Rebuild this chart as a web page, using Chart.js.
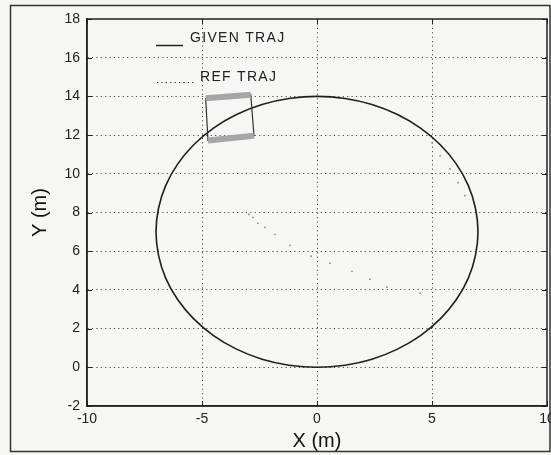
<!DOCTYPE html>
<html>
<head>
<meta charset="utf-8">
<script src="https://cdn.jsdelivr.net/npm/chart.js@4.4.0/dist/chart.umd.min.js"></script>
<style>
html, body { margin: 0; padding: 0; background: #f6f6f4; }
</style>
</head>
<body>
<canvas id="graph" width="551" height="455"></canvas>
<script>
// given trajectory (circle round 0,7, every 10 degrees)
// one extra point at each end only steers the curve, those segments are hidden
const givenX = [6.89, 7, 6.89, 6.58, 6.06, 5.36, 4.5, 3.5, 2.39, 1.22, 0, -1.22, -2.39, -3.5, -4.5, -5.36, -6.06, -6.58, -6.89,
                -7, -6.89, -6.58, -6.06, -5.36, -4.5, -3.5, -2.39, -1.22, 0, 1.22, 2.39, 3.5, 4.5, 5.36, 6.06, 6.58, 6.89, 7, 6.89];
const givenY = [5.78, 7, 8.22, 9.39, 10.5, 11.5, 12.36, 13.06, 13.58, 13.89, 14, 13.89, 13.58, 13.06, 12.36, 11.5, 10.5, 9.39, 8.22,
                7, 5.78, 4.61, 3.5, 2.5, 1.64, 0.94, 0.42, 0.11, 0, 0.11, 0.42, 0.94, 1.64, 2.5, 3.5, 4.61, 5.78, 7, 8.22];
// faint reference dots
const refX = [-2.96, -2.78, -2.57, -2.26, -1.83, -1.17, -0.26, 0.57, 1.52, 2.30, 3.04, 4.48,
              5.0, 5.35, 5.78, 6.13, 6.43];
const refY = [7.90, 7.75, 7.44, 7.23, 6.87, 6.30, 5.74, 5.38, 4.96, 4.55, 4.14, 3.83,
              11.6, 10.93, 10.26, 9.54, 8.87];
// robot body and wheels
const robotX = [-4.84, -2.88, -2.74, -4.74, -4.84];
const robotY = [13.9, 14.09, 11.97, 11.72, 13.9];
const wheelTopX = [-4.84, -2.88];
const wheelTopY = [13.9, 14.09];
const wheelBotX = [-4.74, -2.74];
const wheelBotY = [11.72, 11.97];

const labels = ['GIVEN TRAJ', 'REF TRAJ'];
const xTitle = 'X (m)';
const yTitle = 'Y (m)';

function pts(xs, ys) {
    return xs.map((x, i) => ({x: x, y: ys[i]}));
}

Chart.defaults.font.family = '"Liberation Sans", Arial, sans-serif';

const paper = {
    id: 'paper',
    beforeDraw(chart) {
        const ctx = chart.ctx;
        ctx.save();
        ctx.fillStyle = '#f6f6f4';
        ctx.fillRect(0, 0, chart.width, chart.height);
        ctx.strokeStyle = '#333';
        ctx.lineWidth = 1.5;
        ctx.strokeRect(10.5, 5.5, 539.5, 446);
        ctx.restore();
    },
    afterDraw(chart) {
        const ctx = chart.ctx;
        const a = chart.chartArea;
        const xs = chart.scales.x, ys = chart.scales.y;
        ctx.save();
        ctx.strokeStyle = '#222';
        ctx.lineWidth = 1.5;
        ctx.strokeRect(a.left, a.top, a.right - a.left, a.bottom - a.top);
        ctx.lineWidth = 1;
        ctx.beginPath();
        xs.ticks.forEach(t => {
            const p = Math.round(xs.getPixelForValue(t.value)) + 0.5;
            ctx.moveTo(p, a.bottom); ctx.lineTo(p, a.bottom - 5);
            ctx.moveTo(p, a.top); ctx.lineTo(p, a.top + 5);
        });
        ys.ticks.forEach(t => {
            const p = Math.round(ys.getPixelForValue(t.value)) + 0.5;
            ctx.moveTo(a.left, p); ctx.lineTo(a.left + 5, p);
            ctx.moveTo(a.right, p); ctx.lineTo(a.right - 5, p);
        });
        ctx.stroke();

        // legend inside the plot
        ctx.fillStyle = '#222';
        ctx.font = '14px "Liberation Sans", Arial, sans-serif';
        ctx.letterSpacing = '1.3px';
        ctx.textBaseline = 'middle';
        ctx.lineWidth = 1.5;
        ctx.beginPath();
        ctx.moveTo(156, 45.5); ctx.lineTo(183, 45.5);
        ctx.stroke();
        ctx.fillText(labels[0], 190, 38);
        ctx.setLineDash([1.2, 3.2]);
        ctx.lineWidth = 1.2;
        ctx.beginPath();
        ctx.moveTo(157, 82.5); ctx.lineTo(196, 82.5);
        ctx.stroke();
        ctx.setLineDash([]);
        ctx.fillText(labels[1], 200, 77);
        ctx.restore();
    }
};

const gridColor = c => (c.tick && (c.index === 0 || c.index === c.scale.ticks.length - 1)) ? 'rgba(0,0,0,0)' : '#4a4a4a';
const lastSeg = givenX.length - 1;

new Chart(document.getElementById('graph'), {
    type: 'scatter',
    data: {
        datasets: [
            {
                label: labels[0],
                data: pts(givenX, givenY),
                showLine: true,
                borderColor: '#1e1e1e',
                borderWidth: 1.6,
                pointRadius: 0,
                tension: 0.4,
                order: 2,
                segment: {
                    borderColor: c => (c.p0DataIndex === 0 || c.p1DataIndex === lastSeg) ? 'rgba(0,0,0,0)' : undefined
                }
            },
            {
                label: labels[1],
                data: pts(refX, refY),
                showLine: false,
                pointRadius: 0.9,
                borderWidth: 0,
                backgroundColor: '#8a8a8a',
                order: 2
            },
            {
                label: 'robot',
                data: pts(robotX, robotY),
                showLine: true,
                borderColor: '#333',
                borderWidth: 1.2,
                pointRadius: 0,
                tension: 0,
                order: 1
            },
            {
                label: 'wheel1',
                data: pts(wheelTopX, wheelTopY),
                showLine: true,
                borderColor: '#a6a6a6',
                borderWidth: 6,
                borderCapStyle: 'butt',
                pointRadius: 0,
                order: 0
            },
            {
                label: 'wheel2',
                data: pts(wheelBotX, wheelBotY),
                showLine: true,
                borderColor: '#a6a6a6',
                borderWidth: 6,
                borderCapStyle: 'butt',
                pointRadius: 0,
                order: 0
            }
        ]
    },
    options: {
        responsive: false,
        animation: false,
        devicePixelRatio: 1,
        layout: {padding: {left: 0, top: 19, right: 3, bottom: 0}},
        plugins: {legend: {display: false}, tooltip: {enabled: false}},
        scales: {
            x: {
                type: 'linear',
                min: -10,
                max: 10,
                ticks: {stepSize: 5, color: '#222', font: {size: 14}, padding: 5, maxRotation: 0},
                grid: {color: gridColor, lineWidth: 1, drawTicks: false},
                border: {display: true, color: '#222', width: 1.5, dash: [1.2, 3.2]},
                title: {display: true, text: xTitle, color: '#111', font: {size: 20}, padding: {top: 0, bottom: 2}},
                afterFit: s => { s.height = 49; s.paddingLeft = 0; s.paddingRight = 0; }
            },
            y: {
                type: 'linear',
                min: -2,
                max: 18,
                ticks: {stepSize: 2, color: '#222', font: {size: 14}, padding: 7},
                grid: {color: gridColor, lineWidth: 1, drawTicks: false},
                border: {display: true, color: '#222', width: 1.5, dash: [1.2, 3.2]},
                title: {display: true, text: yTitle, color: '#111', font: {size: 20}, padding: {top: 28, bottom: 0}},
                afterFit: s => { s.width = 87; s.paddingTop = 0; s.paddingBottom = 0; }
            }
        }
    },
    plugins: [paper]
});
</script>
</body>
</html>
